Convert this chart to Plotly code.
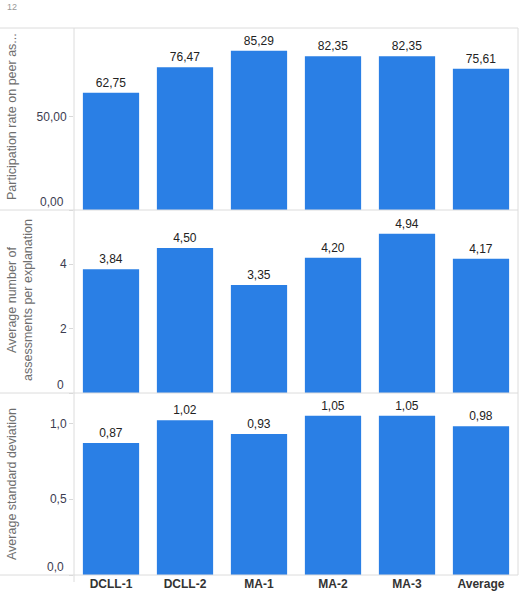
import plotly.graph_objects as go

categories = ["DCLL-1", "DCLL-2", "MA-1", "MA-2", "MA-3", "Average"]
participation = [62.75, 76.47, 85.29, 82.35, 82.35, 75.61]
assessments = [3.84, 4.50, 3.35, 4.20, 4.94, 4.17]
std_dev = [0.87, 1.02, 0.93, 1.05, 1.05, 0.98]

ticks_1 = [0, 50]
ticks_2 = [0, 2, 4]
ticks_3 = [0, 0.5, 1.0]

BLUE = "#2a7fe5"
W, H = 525, 612
ML, MR, MT, MB = 74, 7, 28, 37
PW, PH = W - ML - MR, H - MT - MB
FONT = "Liberation Sans, Arial"

def fmt(v, d=2):
    return f"{v:.{d}f}".replace(".", ",")

fig = go.Figure()
for vals, ya in [(participation, "y"), (assessments, "y2"), (std_dev, "y3")]:
    fig.add_trace(go.Bar(
        x=categories, y=vals, yaxis=ya, xaxis="x",
        marker=dict(color=BLUE, line=dict(width=0)),
        text=[fmt(v) for v in vals], textposition="outside",
        textfont=dict(size=12, color="#222222", family=FONT),
        cliponaxis=False, hoverinfo="x+y", showlegend=False,
    ))

b1 = 182 / PH
b2 = 365 / PH

tickfont = dict(size=12, color="#3c3c50", family=FONT)
common_y = dict(showgrid=False, zeroline=False, showline=False,
                ticks="outside", ticklen=4, tickcolor="#d8d8d8",
                tickfont=tickfont, fixedrange=True)

def tt(vals, d):
    # zero label is drawn as an annotation lifted above the baseline
    return ["" if v == 0 else (fmt(v, d) if d > 0 else str(int(v))) for v in vals]

fig.update_layout(
    width=W, height=H,
    margin=dict(l=ML, r=MR, t=MT, b=MB),
    paper_bgcolor="white", plot_bgcolor="white",
    bargap=0.24,
    font=dict(family=FONT),
    xaxis=dict(anchor="y3", showgrid=False, showline=False, ticks="",
               tickfont=dict(size=12, color="#333333", family=FONT, weight="bold"),
               fixedrange=True),
    yaxis=dict(domain=[b2, 1], range=[0, 97.5], tickvals=ticks_1, ticktext=tt(ticks_1, 2), **common_y),
    yaxis2=dict(domain=[b1, b2], range=[0, 5.68], tickvals=ticks_2, ticktext=tt(ticks_2, 0), **common_y),
    yaxis3=dict(domain=[0, b1], range=[0, 1.2], tickvals=ticks_3, ticktext=tt(ticks_3, 1), **common_y),
)

line = dict(color="#dcdcdc", width=1)
x_left = -ML / PW
shapes = []
for yy in [0, b1, b2, 1]:
    shapes.append(dict(type="line", xref="paper", yref="paper", x0=x_left, x1=1, y0=yy, y1=yy, line=line))
shapes.append(dict(type="line", xref="paper", yref="paper", x0=0, x1=0, y0=-7 / PH, y1=1, line=line))
shapes.append(dict(type="line", xref="paper", yref="paper", x0=1, x1=1, y0=0, y1=1, line=line))
fig.update_layout(shapes=shapes)

def px_x(px):
    return (px - ML) / PW

def px_y(py):
    return 1 - (py - MT) / PH

title_font = dict(size=12.5, color="#6e6e6e", family=FONT)
annotations = [
    dict(text="Participation rate on peer as...", x=px_x(12), y=px_y(117)),
    dict(text="Average number of<br>assessments per explanation", x=px_x(20), y=px_y(300)),
    dict(text="Average standard deviation", x=px_x(12), y=px_y(484)),
]
for a in annotations:
    a.update(xref="paper", yref="paper", textangle=-90, showarrow=False,
             xanchor="center", yanchor="middle", font=title_font)

for ya, txt in [("y", fmt(0, 2)), ("y2", "0"), ("y3", fmt(0, 1))]:
    annotations.append(dict(text=txt, xref="paper", yref=ya, x=px_x(66), y=0,
                            xanchor="right", yanchor="middle", yshift=8,
                            showarrow=False, font=tickfont))

annotations.append(dict(text="12", xref="paper", yref="paper", x=px_x(5), y=px_y(0),
                        xanchor="left", yanchor="top", showarrow=False,
                        font=dict(size=9, color="#999999", family=FONT)))
fig.update_layout(annotations=annotations)

fig.write_html("out.html")
